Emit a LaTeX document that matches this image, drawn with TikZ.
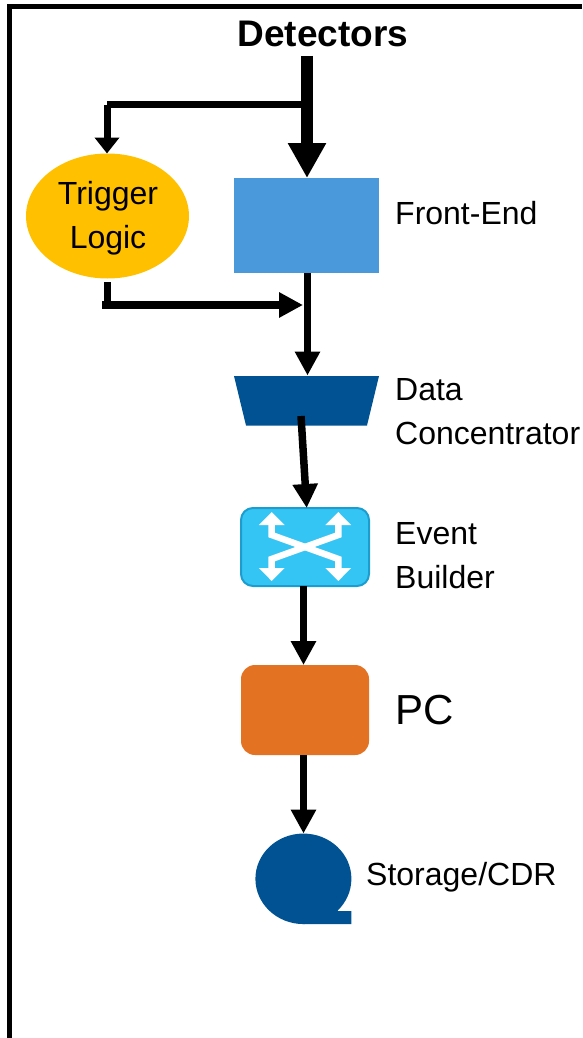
\documentclass[tikz,border=0pt]{standalone}
\usepackage{fontspec}
\setmainfont{Liberation Sans}
\usetikzlibrary{arrows.meta,shapes.geometric}
\definecolor{febl}{HTML}{4A9ADB}
\definecolor{dkbl}{HTML}{005293}
\definecolor{cybl}{HTML}{35C5F5}
\definecolor{cybd}{HTML}{1B9DD0}
\definecolor{orng}{HTML}{E37222}
\definecolor{yllw}{HTML}{FFC000}
\tikzset{
  x=1pt,y=-1pt,
  box/.style={rectangle,inner sep=0pt,outer sep=0pt},
  lab/.style={anchor=base west,inner sep=0pt,font=\fontsize{32}{44}\selectfont,align=left},
  flow/.style={line width=7.5pt,-{Triangle[width=24pt,length=24pt]}},
  flowsmall/.style={line width=7pt,-{Triangle[width=24pt,length=16pt]}},
  flowbig/.style={line width=12pt,-{Triangle[width=36pt,length=35pt]}},
  plain/.style={line width=7pt},
  swarrow/.style={white,line width=6.5pt,line join=miter,{Triangle[width=25pt,length=13pt]}-{Triangle[width=25pt,length=13pt]}},
}
\begin{document}
\begin{tikzpicture}
\useasboundingbox (0,0) rectangle (582,1038);
% frame
\draw[line width=5.5pt,line join=miter] (582,6.5) -- (9.5,6.5) -- (9.5,1038);
% shapes
\node[box,fill=febl,minimum width=145pt,minimum height=95pt] (fe) at (306.5,225.5) {};
\node[ellipse,fill=yllw,inner sep=0pt,outer sep=0pt,minimum width=163pt,minimum height=125pt,align=center,font=\fontsize{32}{44}\selectfont] (tl) at (107.5,216) {};
\node[anchor=base,inner sep=0pt,font=\fontsize{32}{44}\selectfont] (ltl1) at (108,204) {Trigger};
\node[anchor=base,inner sep=0pt,font=\fontsize{32}{44}\selectfont] (ltl2) at (108,248) {Logic};
\fill[dkbl] (234,376) -- (379,376) -- (367,425.5) -- (246,425.5) -- cycle;
\coordinate (dcin) at (307.5,375.5);
\coordinate (dcout) at (301,416);
\node[box,fill=cybl,draw=cybd,line width=2pt,rounded corners=12pt,minimum width=128pt,minimum height=78pt] (eb) at (305,547) {};
\node[box,fill=orng,rounded corners=14pt,minimum width=128pt,minimum height=90pt] (pc) at (305,710) {};
\node[ellipse,fill=dkbl,inner sep=0pt,outer sep=0pt,minimum width=96pt,minimum height=90.5pt] (st) at (303.4,878.8) {};
\fill[dkbl] (303.4,924) -- (351.3,924) -- (351.3,911) -- (338,911) -- (325,890) -- cycle;
% switch arrows
\draw[swarrow] (271.7,512) -- (271.7,535) -- (338.3,559) -- (338.3,581);
\draw[swarrow] (338.3,512) -- (338.3,535) -- (271.7,559) -- (271.7,581);
% labels
\node[anchor=base,inner sep=0pt,font=\fontsize{37}{44}\selectfont\bfseries] (det) at (323,47) {Detectors};
\node[lab] (lfe) at (395,224) {Front-End};
\node[lab] (ldc) at (395,444) {Data\\Concentrator};
\node[lab] (leb) at (395,588) {Event\\Builder};
\node[lab,font=\fontsize{42}{44}\selectfont] (lpc) at (395,724) {PC};
\node[lab] (lst) at (366,885) {Storage/CDR};
% connectors
\coordinate (dettop) at (307,56);
\coordinate (split) at (307,104.5);
\coordinate (splitl) at (107,104.5);
\coordinate (splitd) at (107,105);
\coordinate (tlbot) at (107,282);
\coordinate (tlcor) at (107,305);
\coordinate (tlhor) at (102,305);
\coordinate (join) at (303,305);
\draw[flowbig] (dettop) -- (fe.north -| dettop);
\draw[plain] (split) -- (splitl);
\draw[flowsmall] (splitd) -- (tl.north -| splitd);
\draw[plain] (tlbot) -- (tlcor);
\draw[flow] (tlhor) -- (join);
\draw[flow] (fe.south -| dcin) -- (dcin);
\draw[flow] (dcout) -- (eb.north -| 306.7,0);
\draw[flow] (eb.south -| 303.5,0) -- (pc.north -| 303.5,0);
\draw[flow] (pc.south -| 303.5,0) -- (st.north -| 303.5,0);
\end{tikzpicture}
\end{document}
